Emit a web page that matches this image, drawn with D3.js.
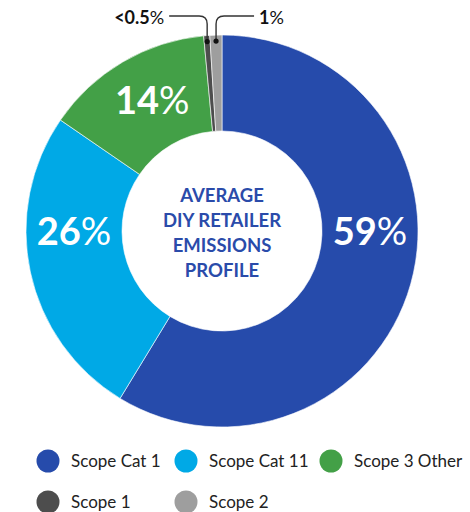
<!DOCTYPE html>
<html><head><meta charset="utf-8">
<script src="https://cdn.jsdelivr.net/npm/d3@7"></script>
<style>body{margin:0;background:#fff}svg{display:block}</style>
</head><body>
<svg width="470" height="512"></svg>
<script>
const categories = ["Scope Cat 1","Scope Cat 11","Scope 3 Other","Scope 1","Scope 2"];
const values = [59, 26, 14, 0.5, 1];
const valueLabels = ["59","26","14","<0.5","1"];
const colors = ["#264BAB","#00A9E6","#43A047","#4D4D4D","#9E9E9E"];
const centerLines = ["AVERAGE","DIY RETAILER","EMISSIONS","PROFILE"];

const svg = d3.select("svg");
const cx = 222, cy = 231, R = 196, r = 100;
const font = "Lato, 'Open Sans', sans-serif";
const g = svg.append("g").attr("transform", `translate(${cx},${cy})`);

const pie = d3.pie().sort(null).value(d => d);
const arcs = pie(values);
const arc = d3.arc().innerRadius(r).outerRadius(R);

g.selectAll("path.slice").data(arcs).join("path")
  .attr("class","slice")
  .attr("d", arc)
  .attr("fill", (d,i) => colors[i])
  .attr("stroke", "#fff").attr("stroke-width", 0.6);

// big labels
const midR = (R + r) / 2;
arcs.forEach((d,i) => {
  if (values[i] < 5) return;
  let a;
  const h1 = Math.PI/2, h2 = 3*Math.PI/2;
  if (d.startAngle <= h1 && d.endAngle >= h1) a = h1;
  else if (d.startAngle <= h2 && d.endAngle >= h2) a = h2;
  else a = (d.startAngle + d.endAngle)/2 + 0.04;
  const x = midR * Math.sin(a), y = -midR * Math.cos(a);
  const t = g.append("text").attr("x", x).attr("y", y).attr("dy", "0.36em")
    .attr("text-anchor","middle").attr("fill","#fff")
    .style("font-family", font).style("font-size","38px");
  t.append("tspan").attr("font-weight","700").text(valueLabels[i]);
  t.append("tspan").attr("font-weight","400").text("%");
});

// callouts for small slices
const dotR = 190;
arcs.forEach((d,i) => {
  if (values[i] >= 5) return;
  const a = (d.startAngle + d.endAngle)/2;
  const x = dotR*Math.sin(a), y = -dotR*Math.cos(a);
  const dir = (i === 3) ? -1 : 1;
  const yTop = 16 - cy;
  const rad = 8;
  const xEnd = x + dir*38;
  const p = d3.path();
  p.moveTo(x, y);
  p.lineTo(x, yTop + rad);
  p.quadraticCurveTo(x, yTop, x + dir*rad, yTop);
  p.lineTo(xEnd, yTop);
  g.append("path").attr("d", p.toString()).attr("fill","none")
    .attr("stroke","#333").attr("stroke-width",1.4);
  g.append("circle").attr("cx",x).attr("cy",y).attr("r",2.6).attr("fill","#111");
  const t = g.append("text").attr("x", xEnd + dir*5).attr("y", yTop + 1.5).attr("dy","0.36em")
    .attr("text-anchor", dir<0 ? "end" : "start").attr("fill","#111")
    .style("font-family", font).style("font-size","18px");
  t.append("tspan").attr("font-weight","700").text(valueLabels[i]);
  t.append("tspan").attr("font-weight","400").text("%");
});

// center text
const ct = g.append("text").attr("text-anchor","middle").attr("fill","#2A4BAA")
  .style("font-family", font).style("font-size","18.5px").style("font-weight","700");
centerLines.forEach((s,i) => {
  ct.append("tspan").attr("x",0).attr("y", -29 + i*25).text(s);
});

// legend
const legX = [48, 186, 331];
const legY = [461, 502];
const leg = svg.append("g");
categories.forEach((c,i) => {
  const col = i % 3, row = Math.floor(i/3);
  const lg = leg.append("g").attr("transform", `translate(${legX[col]},${legY[row]})`);
  lg.append("circle").attr("r", 11.5).attr("fill", colors[i]);
  lg.append("text").attr("x", 23).attr("dy","0.36em").attr("fill","#222")
    .style("font-family", font).style("font-size","17px").text(c);
});
</script>
</body></html>
